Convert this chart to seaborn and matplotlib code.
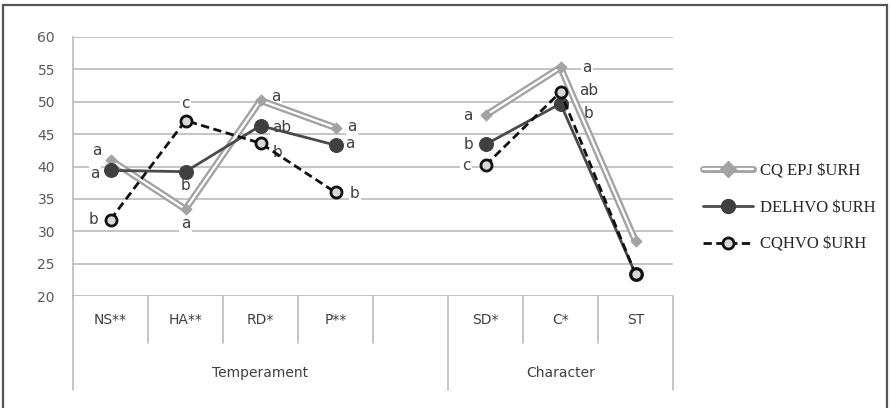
import numpy as np
import pandas as pd
import matplotlib
matplotlib.use("Agg")
import matplotlib.pyplot as plt
import matplotlib.patheffects as pe
from matplotlib.lines import Line2D
from matplotlib import font_manager
import seaborn as sns

categories = ["NS**", "HA**", "RD*", "P**", "", "SD*", "C*", "ST"]
groups = ["Temperament", "Temperament", "Temperament", "Temperament", "Temperament",
          "Character", "Character", "Character"]
group_names = ["Temperament", "Character"]
series_names = ["CQ EPJ $URH", "DELHVO $URH", "CQHVO $URH"]
s1 = [41.0, 33.4, 50.2, 46.0, np.nan, 47.9, 55.3, 28.5]
s2 = [39.4, 39.2, 46.3, 43.3, np.nan, 43.4, 49.7, 23.4]
s3 = [31.8, 47.1, 43.6, 36.0, np.nan, 40.2, 51.5, 23.4]
lab1 = ["a", "a", "a", "a", "", "a", "a", ""]
lab2 = ["a", "b", "ab", "a", "", "b", "b", ""]
lab3 = ["b", "c", "b", "b", "", "c", "ab", ""]

# label offsets in points (style)
off1 = [(-10, 7), (0, -10), (11, 3), (12, 1), None, (-13, 0), (19, 0), None]
off2 = [(-11, -2), (0, -10), (15, -1), (10, 1), None, (-12, 0), (20, -7), None]
off3 = [(-12, 0), (0, 12), (12, -7), (14, -1), None, (-14, 0), (20, 1), None]

df = pd.DataFrame({"cat": categories, "group": groups,
                   series_names[0]: s1, series_names[1]: s2, series_names[2]: s3})
df["pos"] = np.arange(len(df))

sns.set_style("white")
plt.rcParams["font.family"] = ["DejaVu Sans"]

avail = {f.name for f in font_manager.fontManager.ttflist}
leg_family = "Liberation Sans Narrow" if "Liberation Sans Narrow" in avail else "Liberation Serif"
leg_size = 15 if leg_family == "Liberation Sans Narrow" else 12

fig = plt.figure(figsize=(8.9, 4.08), dpi=100)
ax = fig.add_axes([73 / 890, 1 - 296 / 408, 600 / 890, 259 / 408])

grid_c = "#b5b5b5"
ax.set_ylim(20, 60)
ax.set_xlim(-0.5, len(categories) - 0.5)
ax.set_yticks(np.arange(20, 61, 5))
ax.yaxis.grid(True, color=grid_c, lw=1.1)
ax.set_axisbelow(True)
for s in ["top", "right", "bottom"]:
    ax.spines[s].set_visible(False)
ax.spines["left"].set_color(grid_c)
ax.spines["left"].set_linewidth(1.1)
ax.tick_params(axis="y", length=5, color=grid_c, width=1.1, labelsize=10,
               labelcolor="#595959", pad=8)
ax.tick_params(axis="x", length=0, labelbottom=False)

styles = [
    dict(color="white", lw=1.6, marker=None,
         path_effects=[pe.Stroke(linewidth=5.0, foreground="#a3a3a3"), pe.Normal()]),
    dict(color="#4a4a4a", lw=2.0, marker="o", markersize=10,
         markerfacecolor="#404040", markeredgecolor="#404040"),
    dict(color="#111111", lw=2.0, linestyle=(0, (3, 1.6)), marker="o", markersize=8,
         markerfacecolor="#d8d8d8", markeredgecolor="#111111", markeredgewidth=2.0),
]

for si, name in enumerate(series_names):
    for g in group_names:
        sub = df[(df["group"] == g) & df[name].notna()]
        sns.lineplot(data=sub, x="pos", y=name, ax=ax, legend=False, zorder=3 + si,
                     **styles[si])
    if si == 0:
        sub = df[df[name].notna()]
        sns.scatterplot(data=sub, x="pos", y=name, ax=ax, marker="D", s=34,
                        color="#a3a3a3", edgecolor="#a3a3a3", zorder=3.5, legend=False)
ax.set_xlabel("")
ax.set_ylabel("")

for vals, labs, offs in [(s1, lab1, off1), (s2, lab2, off2), (s3, lab3, off3)]:
    for i, (v, l, o) in enumerate(zip(vals, labs, offs)):
        if l and o is not None:
            ax.annotate(l, (i, v), xytext=o, textcoords="offset points",
                        ha="center", va="center", fontsize=11, color="#404040",
                        bbox=dict(boxstyle="square,pad=0.1", fc="white", ec="none"),
                        zorder=2.5)

# hierarchical category axis
trans = ax.get_xaxis_transform()
y_short = -47 / 259
y_long = -94 / 259
n = len(categories)
for b in range(n + 1):
    x = b - 0.5
    is_group_edge = b == 0 or b == n or groups[b - 1] != groups[b]
    ax.plot([x, x], [0, y_long if is_group_edge else y_short], transform=trans,
            color=grid_c, lw=1.1, clip_on=False)
for i, c in enumerate(categories):
    ax.text(i, -0.093, c, transform=trans, ha="center", va="center",
            fontsize=10, color="#404040")
for g in group_names:
    idx = [i for i, gg in enumerate(groups) if gg == g]
    ax.text((idx[0] + idx[-1]) / 2, -0.298, g, transform=trans, ha="center",
            va="center", fontsize=10, color="#404040")

# figure border
fig.add_artist(plt.Rectangle((2.5 / 890, -0.05), 884 / 890, 1.05 - 5.5 / 408,
                             transform=fig.transFigure, fill=False,
                             ec="#555555", lw=1.6, clip_on=False))

handles = [
    Line2D([], [], color="white", lw=1.6, marker="D", markersize=4,
           markerfacecolor="#a3a3a3", markeredgecolor="#a3a3a3",
           path_effects=[pe.Stroke(linewidth=5.0, foreground="#a3a3a3"), pe.Normal()]),
    Line2D([], [], **styles[1]),
    Line2D([], [], **styles[2]),
]
fig.legend(handles, series_names, loc="center left",
           bbox_to_anchor=(703 / 890, 1 - 208 / 408), frameon=False,
           prop={"family": leg_family, "size": leg_size}, handlelength=3.0,
           labelspacing=1.25, handletextpad=0.45, borderpad=0, borderaxespad=0)

fig.savefig("out.png", dpi=100)
